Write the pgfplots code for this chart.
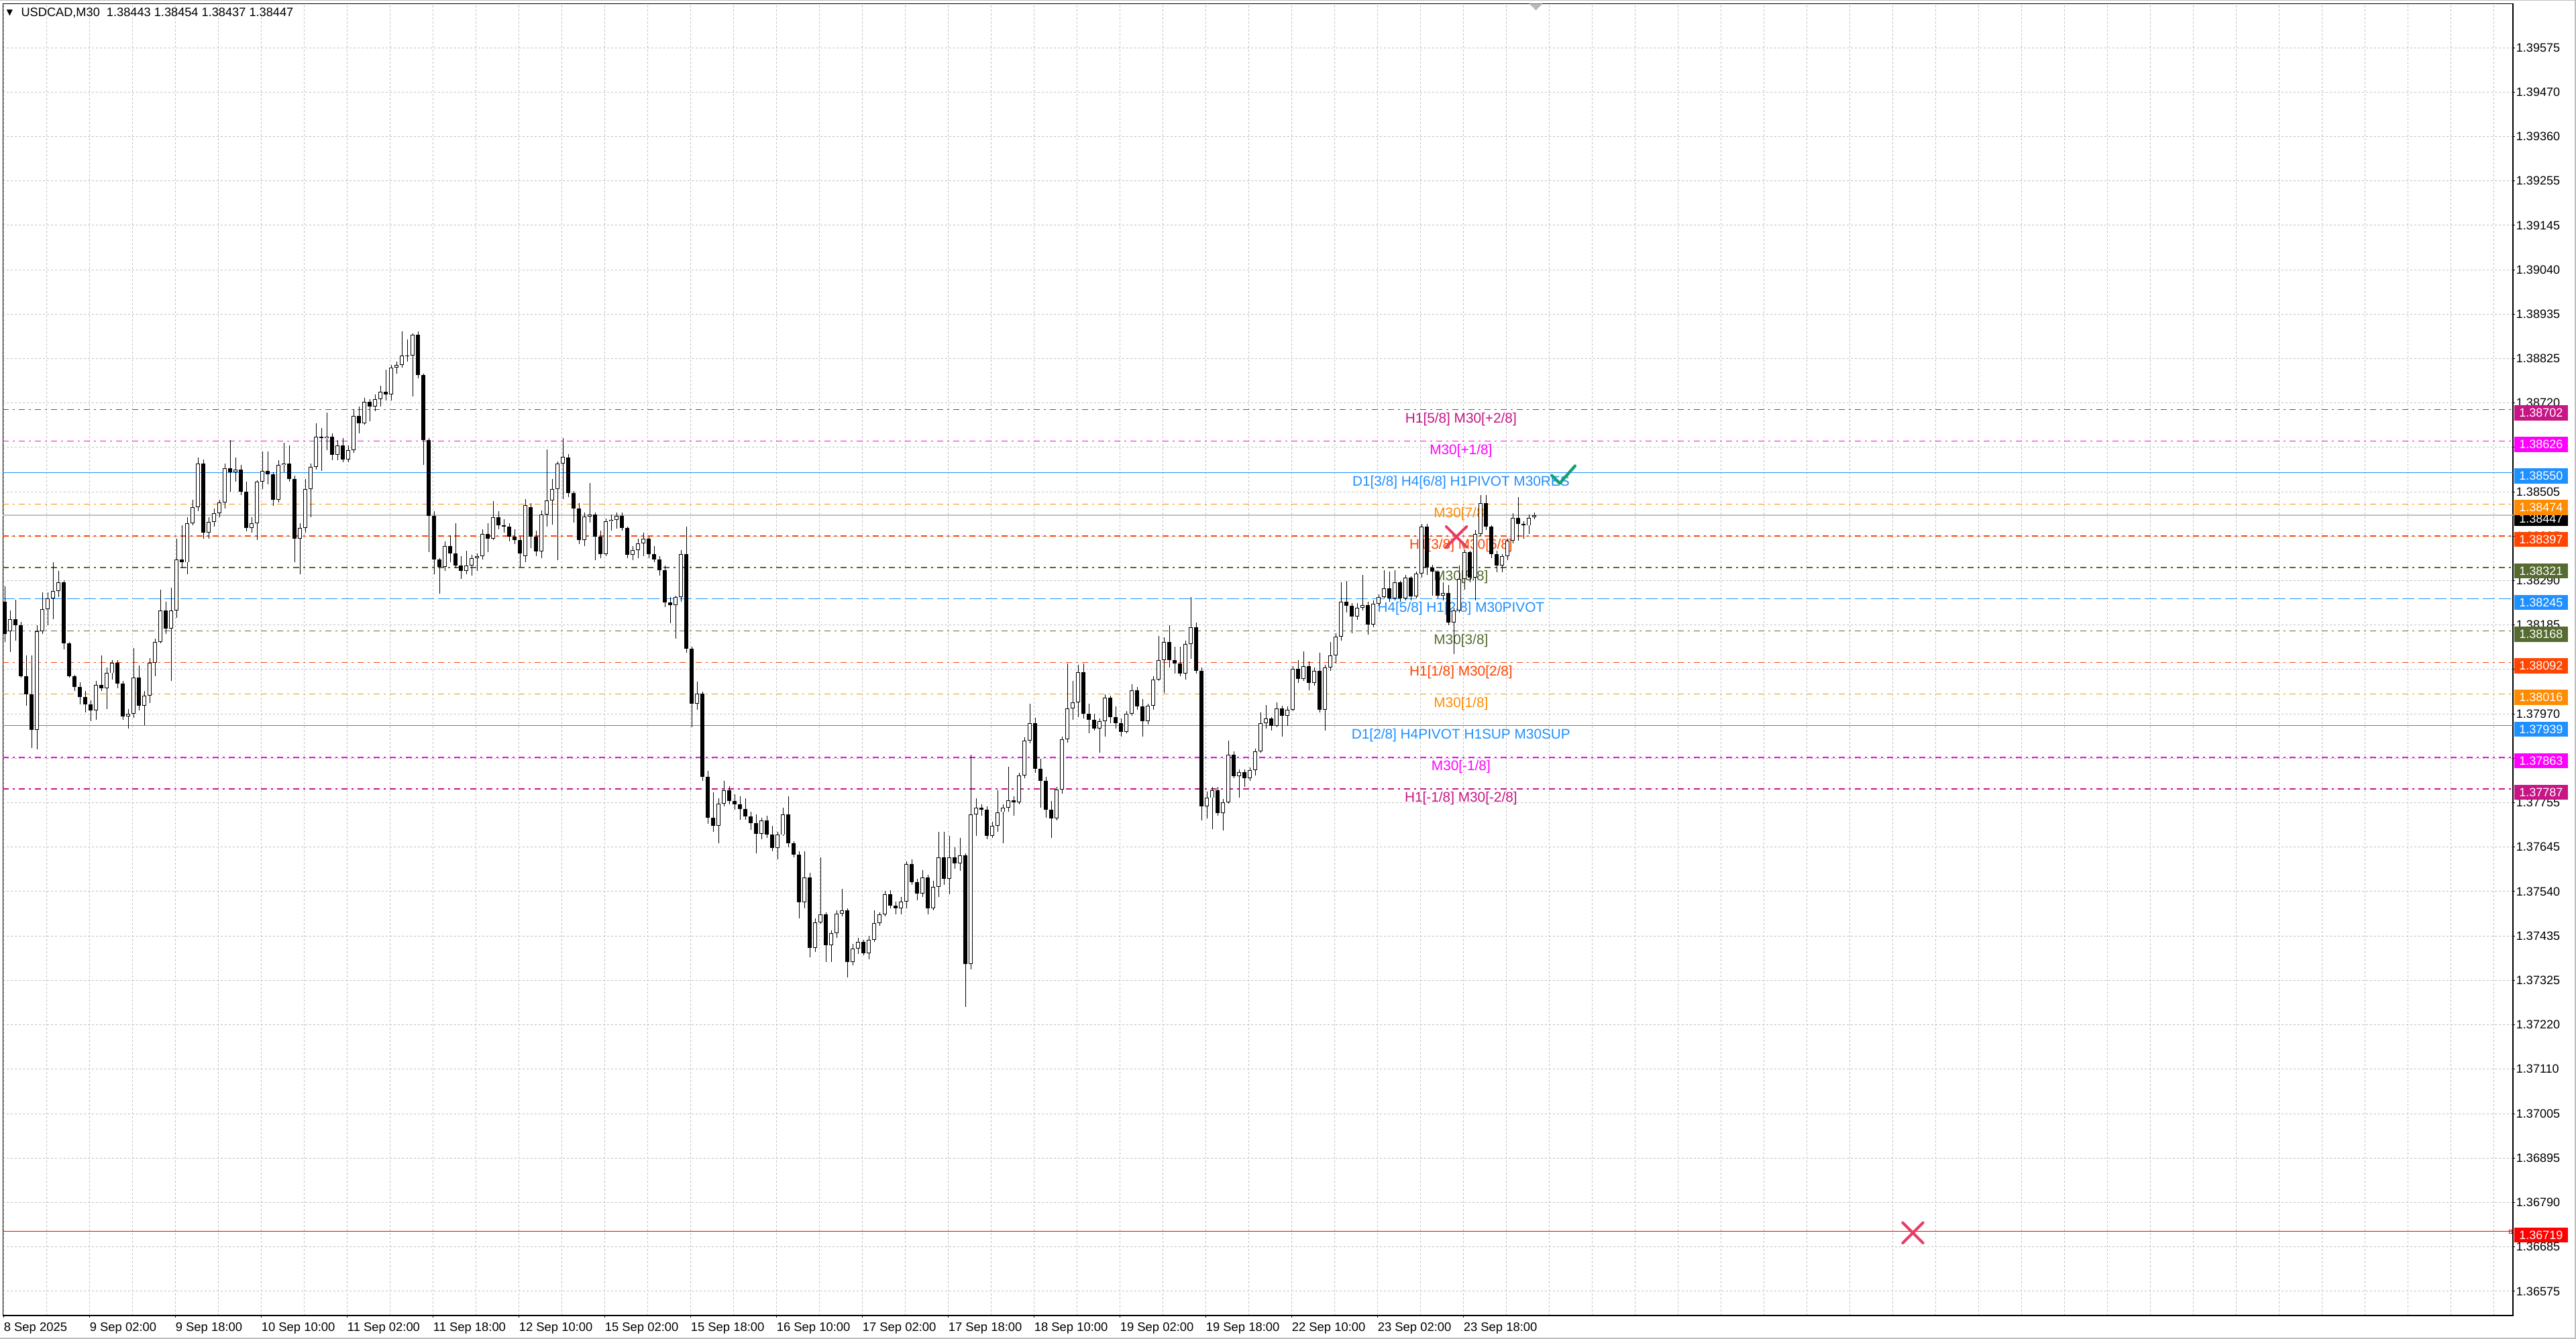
\documentclass[border=0pt]{standalone}
\usepackage{pgfplots}
\pgfplotsset{compat=1.18}
\usepackage{pgfplotstable}
\usepackage{fontspec}
\setmainfont{Liberation Sans}
\newfontfamily\dejavu{DejaVu Sans}
\definecolor{mvred}{RGB}{199,21,133}
\definecolor{mgnt}{RGB}{255,0,255}
\definecolor{dblue}{RGB}{30,144,255}
\definecolor{dorange}{RGB}{255,140,0}
\definecolor{ored}{RGB}{255,69,0}
\definecolor{olivec}{RGB}{85,107,47}
\definecolor{gridgray}{RGB}{192,192,192}
\definecolor{xred}{RGB}{232,60,100}
\definecolor{chk}{RGB}{22,160,120}
\newcommand{\lvlfont}{\fontsize{10.4}{12}\selectfont}
\newcommand{\boxfont}{\fontsize{9}{10}\selectfont}

\pgfplotstableread{
x o h l c
0.5 1.38239 1.38275 1.38142 1.38160
2.5 1.38167 1.38218 1.38117 1.38196
4.5 1.38196 1.38243 1.38145 1.38182
6.5 1.38182 1.38189 1.38055 1.38059
8.5 1.38059 1.38109 1.37987 1.38015
10.5 1.38015 1.38109 1.37885 1.37929
12.5 1.37929 1.38182 1.37882 1.38167
14.5 1.38167 1.38261 1.38160 1.38221
16.5 1.38221 1.38261 1.38182 1.38246
18.5 1.38246 1.38333 1.38196 1.38265
20.5 1.38265 1.38312 1.38250 1.38286
22.5 1.38286 1.38290 1.38124 1.38138
24.5 1.38138 1.38142 1.38055 1.38059
26.5 1.38059 1.38062 1.38023 1.38033
28.5 1.38033 1.38044 1.37990 1.38008
30.5 1.38008 1.38023 1.37972 1.37990
32.5 1.37990 1.38001 1.37950 1.37976
34.5 1.37976 1.38048 1.37954 1.38037
36.5 1.38037 1.38109 1.38023 1.38030
38.5 1.38030 1.38080 1.37979 1.38066
40.5 1.38066 1.38098 1.38051 1.38091
42.5 1.38091 1.38098 1.38030 1.38041
44.5 1.38041 1.38048 1.37954 1.37961
46.5 1.37961 1.37979 1.37932 1.37968
48.5 1.37968 1.38127 1.37958 1.38055
50.5 1.38055 1.38084 1.37976 1.37987
52.5 1.37987 1.38023 1.37940 1.38012
54.5 1.38012 1.38102 1.37994 1.38091
56.5 1.38091 1.38149 1.38059 1.38142
58.5 1.38142 1.38268 1.38138 1.38218
60.5 1.38218 1.38239 1.38160 1.38174
62.5 1.38174 1.38272 1.38048 1.38218
64.5 1.38218 1.38391 1.38200 1.38340
66.5 1.38340 1.38423 1.38319 1.38333
68.5 1.38333 1.38442 1.38304 1.38427
70.5 1.38427 1.38485 1.38423 1.38467
72.5 1.38467 1.38586 1.38456 1.38572
74.5 1.38572 1.38582 1.38391 1.38405
76.5 1.38405 1.38442 1.38391 1.38431
78.5 1.38431 1.38463 1.38420 1.38452
80.5 1.38452 1.38485 1.38442 1.38478
82.5 1.38478 1.38572 1.38463 1.38561
84.5 1.38561 1.38629 1.38503 1.38550
86.5 1.38550 1.38586 1.38528 1.38557
88.5 1.38557 1.38568 1.38496 1.38503
90.5 1.38503 1.38528 1.38409 1.38416
92.5 1.38416 1.38442 1.38405 1.38427
94.5 1.38427 1.38532 1.38387 1.38528
96.5 1.38528 1.38601 1.38510 1.38554
98.5 1.38554 1.38601 1.38521 1.38546
100.5 1.38546 1.38550 1.38470 1.38485
102.5 1.38485 1.38579 1.38478 1.38568
104.5 1.38568 1.38622 1.38550 1.38572
106.5 1.38572 1.38615 1.38528 1.38535
108.5 1.38535 1.38543 1.38333 1.38391
110.5 1.38391 1.38427 1.38304 1.38416
112.5 1.38416 1.38535 1.38405 1.38510
114.5 1.38510 1.38572 1.38442 1.38564
116.5 1.38564 1.38669 1.38557 1.38637
118.5 1.38637 1.38658 1.38554 1.38633
120.5 1.38633 1.38694 1.38604 1.38637
122.5 1.38637 1.38644 1.38579 1.38593
124.5 1.38593 1.38629 1.38579 1.38615
126.5 1.38615 1.38633 1.38575 1.38582
128.5 1.38582 1.38615 1.38575 1.38604
130.5 1.38604 1.38702 1.38597 1.38687
132.5 1.38687 1.38709 1.38644 1.38669
134.5 1.38669 1.38730 1.38665 1.38720
136.5 1.38720 1.38727 1.38673 1.38709
138.5 1.38709 1.38738 1.38698 1.38727
140.5 1.38727 1.38759 1.38709 1.38745
142.5 1.38745 1.38799 1.38723 1.38738
144.5 1.38738 1.38810 1.38723 1.38803
146.5 1.38803 1.38817 1.38788 1.38809
148.5 1.38809 1.38890 1.38803 1.38832
150.5 1.38832 1.38871 1.38817 1.38833
152.5 1.38833 1.38886 1.38734 1.38882
154.5 1.38882 1.38890 1.38778 1.38785
156.5 1.38785 1.38788 1.38568 1.38629
158.5 1.38629 1.38633 1.38358 1.38445
160.5 1.38445 1.38456 1.38304 1.38340
162.5 1.38340 1.38344 1.38257 1.38322
164.5 1.38322 1.38384 1.38312 1.38373
166.5 1.38373 1.38398 1.38333 1.38355
168.5 1.38355 1.38427 1.38319 1.38326
170.5 1.38326 1.38348 1.38293 1.38312
172.5 1.38312 1.38362 1.38304 1.38326
174.5 1.38326 1.38351 1.38301 1.38344
176.5 1.38344 1.38355 1.38312 1.38348
178.5 1.38348 1.38413 1.38340 1.38402
180.5 1.38402 1.38427 1.38358 1.38391
182.5 1.38391 1.38481 1.38387 1.38442
184.5 1.38442 1.38456 1.38413 1.38423
186.5 1.38423 1.38438 1.38405 1.38420
188.5 1.38420 1.38427 1.38384 1.38395
190.5 1.38395 1.38413 1.38377 1.38387
192.5 1.38387 1.38395 1.38322 1.38355
194.5 1.38349 1.38486 1.38334 1.38472
196.5 1.38467 1.38477 1.38368 1.38396
198.5 1.38396 1.38410 1.38349 1.38360
200.5 1.38360 1.38458 1.38344 1.38448
202.5 1.38448 1.38605 1.38420 1.38482
204.5 1.38482 1.38534 1.38424 1.38510
206.5 1.38510 1.38576 1.38339 1.38571
208.5 1.38571 1.38633 1.38486 1.38588
210.5 1.38586 1.38595 1.38491 1.38501
212.5 1.38501 1.38505 1.38429 1.38463
214.5 1.38463 1.38477 1.38377 1.38387
216.5 1.38387 1.38453 1.38372 1.38444
218.5 1.38444 1.38524 1.38429 1.38448
220.5 1.38448 1.38453 1.38339 1.38396
222.5 1.38396 1.38410 1.38344 1.38353
224.5 1.38353 1.38439 1.38349 1.38432
226.5 1.38432 1.38448 1.38410 1.38436
228.5 1.38436 1.38453 1.38415 1.38446
230.5 1.38446 1.38453 1.38410 1.38417
232.5 1.38417 1.38420 1.38344 1.38351
234.5 1.38351 1.38372 1.38339 1.38363
236.5 1.38363 1.38391 1.38344 1.38379
238.5 1.38379 1.38405 1.38349 1.38391
240.5 1.38391 1.38396 1.38344 1.38353
242.5 1.38353 1.38372 1.38334 1.38341
244.5 1.38341 1.38349 1.38301 1.38315
246.5 1.38315 1.38325 1.38225 1.38236
248.5 1.38236 1.38249 1.38187 1.38230
250.5 1.38230 1.38253 1.38149 1.38249
252.5 1.38249 1.38363 1.38239 1.38353
254.5 1.38353 1.38420 1.38116 1.38125
256.5 1.38125 1.38130 1.37935 1.37992
258.5 1.37992 1.38045 1.37978 1.38016
260.5 1.38016 1.38021 1.37807 1.37816
262.5 1.37816 1.37831 1.37703 1.37717
264.5 1.37717 1.37779 1.37684 1.37698
266.5 1.37698 1.37764 1.37655 1.37752
268.5 1.37752 1.37807 1.37745 1.37783
270.5 1.37783 1.37793 1.37750 1.37758
272.5 1.37758 1.37774 1.37736 1.37750
274.5 1.37750 1.37769 1.37712 1.37739
276.5 1.37739 1.37764 1.37712 1.37720
278.5 1.37720 1.37731 1.37688 1.37705
280.5 1.37705 1.37726 1.37631 1.37679
282.5 1.37679 1.37717 1.37665 1.37710
284.5 1.37710 1.37722 1.37669 1.37676
286.5 1.37676 1.37698 1.37636 1.37644
288.5 1.37644 1.37684 1.37617 1.37676
290.5 1.37676 1.37741 1.37674 1.37726
292.5 1.37726 1.37769 1.37646 1.37655
294.5 1.37655 1.37660 1.37622 1.37629
296.5 1.37629 1.37636 1.37475 1.37513
298.5 1.37513 1.37636 1.37498 1.37574
300.5 1.37574 1.37584 1.37380 1.37404
302.5 1.37404 1.37475 1.37394 1.37465
304.5 1.37465 1.37622 1.37461 1.37484
306.5 1.37484 1.37489 1.37370 1.37410
308.5 1.37410 1.37446 1.37370 1.37439
310.5 1.37439 1.37494 1.37427 1.37486
312.5 1.37486 1.37546 1.37480 1.37494
314.5 1.37494 1.37498 1.37332 1.37370
316.5 1.37370 1.37413 1.37361 1.37401
318.5 1.37401 1.37427 1.37389 1.37418
320.5 1.37418 1.37422 1.37385 1.37391
322.5 1.37391 1.37432 1.37375 1.37422
324.5 1.37422 1.37494 1.37418 1.37463
326.5 1.37463 1.37489 1.37456 1.37484
328.5 1.37484 1.37541 1.37480 1.37532
330.5 1.37532 1.37543 1.37498 1.37505
332.5 1.37505 1.37515 1.37484 1.37498
334.5 1.37498 1.37527 1.37484 1.37515
336.5 1.37515 1.37612 1.37498 1.37605
338.5 1.37605 1.37617 1.37556 1.37562
340.5 1.37562 1.37570 1.37518 1.37534
342.5 1.37534 1.37591 1.37527 1.37574
344.5 1.37574 1.37579 1.37484 1.37498
346.5 1.37498 1.37565 1.37494 1.37551
348.5 1.37551 1.37684 1.37527 1.37622
350.5 1.37622 1.37684 1.37556 1.37570
352.5 1.37570 1.37674 1.37532 1.37622
354.5 1.37622 1.37646 1.37594 1.37608
356.5 1.37608 1.37669 1.37589 1.37627
358.5 1.37627 1.37631 1.37261 1.37365
360.5 1.37365 1.37869 1.37351 1.37726
362.5 1.37726 1.37764 1.37674 1.37741
364.5 1.37741 1.37750 1.37722 1.37736
366.5 1.37736 1.37745 1.37665 1.37674
368.5 1.37674 1.37707 1.37669 1.37698
370.5 1.37698 1.37783 1.37684 1.37731
372.5 1.37731 1.37750 1.37655 1.37741
374.5 1.37741 1.37840 1.37731 1.37760
376.5 1.37760 1.37769 1.37722 1.37755
378.5 1.37755 1.37826 1.37750 1.37819
380.5 1.37819 1.37912 1.37812 1.37904
382.5 1.37904 1.37992 1.37897 1.37945
384.5 1.37945 1.37959 1.37826 1.37836
386.5 1.37836 1.37860 1.37741 1.37807
388.5 1.37807 1.37816 1.37717 1.37736
390.5 1.37736 1.37758 1.37668 1.37715
392.5 1.37715 1.37791 1.37711 1.37786
394.5 1.37786 1.37913 1.37776 1.37906
396.5 1.37906 1.38090 1.37899 1.37981
398.5 1.37981 1.38047 1.37953 1.37996
400.5 1.37996 1.38087 1.37960 1.38069
402.5 1.38069 1.38090 1.37957 1.37968
404.5 1.37968 1.37993 1.37921 1.37953
406.5 1.37953 1.37968 1.37928 1.37933
408.5 1.37933 1.37957 1.37874 1.37950
410.5 1.37950 1.38015 1.37913 1.38007
412.5 1.38007 1.38011 1.37946 1.37960
414.5 1.37960 1.37986 1.37932 1.37946
416.5 1.37946 1.37957 1.37913 1.37924
418.5 1.37924 1.37975 1.37921 1.37968
420.5 1.37968 1.38040 1.37964 1.38025
422.5 1.38025 1.38033 1.37978 1.37986
424.5 1.37986 1.38004 1.37913 1.37950
426.5 1.37950 1.37993 1.37942 1.37988
428.5 1.37988 1.38058 1.37978 1.38051
430.5 1.38051 1.38155 1.38047 1.38098
432.5 1.38098 1.38152 1.38018 1.38141
434.5 1.38141 1.38181 1.38080 1.38098
436.5 1.38098 1.38130 1.38065 1.38090
438.5 1.38090 1.38130 1.38058 1.38065
440.5 1.38065 1.38145 1.38051 1.38137
442.5 1.38137 1.38249 1.38101 1.38177
444.5 1.38177 1.38188 1.38065 1.38072
446.5 1.38072 1.38080 1.37711 1.37744
448.5 1.37744 1.37780 1.37715 1.37765
450.5 1.37765 1.37791 1.37689 1.37783
452.5 1.37783 1.37791 1.37722 1.37728
454.5 1.37728 1.37762 1.37686 1.37755
456.5 1.37755 1.37903 1.37751 1.37870
458.5 1.37870 1.37877 1.37812 1.37817
460.5 1.37817 1.37834 1.37765 1.37827
462.5 1.37827 1.37834 1.37791 1.37812
464.5 1.37812 1.37839 1.37807 1.37832
466.5 1.37832 1.37884 1.37819 1.37877
468.5 1.37877 1.37971 1.37874 1.37946
470.5 1.37946 1.37989 1.37932 1.37957
472.5 1.37957 1.37960 1.37928 1.37939
474.5 1.37939 1.37996 1.37935 1.37981
476.5 1.37981 1.37988 1.37913 1.37964
478.5 1.37964 1.37986 1.37939 1.37978
480.5 1.37978 1.38083 1.37975 1.38077
482.5 1.38077 1.38098 1.38043 1.38053
484.5 1.38053 1.38119 1.38047 1.38083
486.5 1.38083 1.38094 1.38025 1.38043
488.5 1.38043 1.38080 1.38036 1.38072
490.5 1.38072 1.38116 1.37971 1.37978
492.5 1.37978 1.38087 1.37928 1.38080
494.5 1.38080 1.38141 1.38072 1.38109
496.5 1.38109 1.38163 1.38090 1.38154
498.5 1.38154 1.38285 1.38145 1.38239
500.5 1.38239 1.38289 1.38213 1.38228
502.5 1.38228 1.38235 1.38163 1.38202
504.5 1.38202 1.38235 1.38195 1.38224
506.5 1.38224 1.38303 1.38217 1.38231
508.5 1.38231 1.38239 1.38159 1.38184
510.5 1.38184 1.38242 1.38177 1.38233
512.5 1.38233 1.38256 1.38228 1.38249
514.5 1.38249 1.38314 1.38246 1.38271
516.5 1.38271 1.38311 1.38239 1.38246
518.5 1.38246 1.38314 1.38242 1.38285
520.5 1.38285 1.38289 1.38239 1.38246
522.5 1.38246 1.38303 1.38242 1.38296
524.5 1.38296 1.38300 1.38242 1.38251
526.5 1.38251 1.38311 1.38246 1.38306
528.5 1.38306 1.38426 1.38296 1.38419
530.5 1.38419 1.38426 1.38303 1.38321
532.5 1.38321 1.38328 1.38253 1.38311
534.5 1.38311 1.38314 1.38246 1.38253
536.5 1.38253 1.38285 1.38242 1.38260
538.5 1.38260 1.38278 1.38181 1.38188
540.5 1.38188 1.38224 1.38112 1.38217
542.5 1.38217 1.38325 1.38213 1.38293
544.5 1.38293 1.38365 1.38267 1.38358
546.5 1.38358 1.38361 1.38285 1.38296
548.5 1.38296 1.38412 1.38242 1.38401
550.5 1.38401 1.38495 1.38397 1.38477
552.5 1.38477 1.38496 1.38412 1.38419
554.5 1.38419 1.38422 1.38343 1.38354
556.5 1.38354 1.38361 1.38310 1.38325
558.5 1.38325 1.38354 1.38310 1.38349
560.5 1.38349 1.38390 1.38339 1.38385
562.5 1.38385 1.38452 1.38379 1.38441
564.5 1.38441 1.38491 1.38386 1.38426
566.5 1.38426 1.38433 1.38390 1.38422
568.5 1.38422 1.38448 1.38401 1.38441
570.5 1.38443 1.38454 1.38437 1.38447
}\candles

\begin{document}
\begin{tikzpicture}
\useasboundingbox (0,0) rectangle (1920pt,998pt);
\fill[white] (0,0) rectangle (1920pt,998pt);
\begin{axis}[
  at={(2.25pt,17.5pt)}, anchor=south west,
  scale only axis, width=1870.75pt, height=977.8pt,
  xmin=-0.25, xmax=935.125, ymin=1.365165, ymax=1.396812,
  clip=false,
  axis line style={black, line width=0.6pt},
  tick align=outside, major tick length=1.5pt, minor tick length=0pt,
  tick style={black, line width=0.5pt},
  xtick pos=bottom, ytick pos=right, yticklabel pos=right,
  xtick={0,32,...,544}, minor xtick={16,32,...,928},
  xticklabels={8 Sep 2025,9 Sep 02:00,9 Sep 18:00,10 Sep 10:00,11 Sep 02:00,11 Sep 18:00,12 Sep 10:00,15 Sep 02:00,15 Sep 18:00,16 Sep 10:00,17 Sep 02:00,17 Sep 18:00,18 Sep 10:00,19 Sep 02:00,19 Sep 18:00,22 Sep 10:00,23 Sep 02:00,23 Sep 18:00},
  ytick={1.39575,1.394678571,1.393607143,1.392535714,1.391464286,1.390392857,1.389321429,1.38825,1.387178571,1.386107143,1.385035714,1.383964286,1.382892857,1.381821429,1.38075,1.379678571,1.378607143,1.377535714,1.376464286,1.375392857,1.374321429,1.37325,1.372178571,1.371107143,1.370035714,1.368964286,1.367892857,1.366821429,1.36575},
  yticklabels={1.39575,1.39470,1.39360,1.39255,1.39145,1.39040,1.38935,1.38825,1.38720,1.38610,1.38505,1.38395,1.38290,1.38185,1.38075,1.37970,1.37860,1.37755,1.37645,1.37540,1.37435,1.37325,1.37220,1.37110,1.37005,1.36895,1.36790,1.36685,1.36575},
  grid=both,
  major grid style={gridgray, line width=0.5pt, dash pattern=on 1.5pt off 1.5pt},
  minor grid style={gridgray, line width=0.5pt, dash pattern=on 1.5pt off 1.5pt},
  xticklabel style={anchor=north west, inner sep=0pt, yshift=-3.5pt, font=\fontsize{9.2}{10}\selectfont},
  yticklabel style={anchor=west, inner sep=0pt, xshift=0.8pt, font=\fontsize{9}{10}\selectfont},
  scaled y ticks=false,
  filter discard warning=false,
  after end axis/.code={
    \node[fill=black, text=white, font=\boxfont, minimum width=40pt, minimum height=11.2pt, inner sep=0pt, yshift=-2.5pt] at (axis cs:945.6,1.38447) {1.38447};
    \node[fill=mvred, text=white, font=\boxfont, minimum width=40pt, minimum height=11.2pt, inner sep=0pt, yshift=-2.5pt] at (axis cs:945.6,1.38702) {1.38702};
    \node[fill=mgnt, text=white, font=\boxfont, minimum width=40pt, minimum height=11.2pt, inner sep=0pt, yshift=-2.5pt] at (axis cs:945.6,1.38626) {1.38626};
    \node[fill=dblue, text=white, font=\boxfont, minimum width=40pt, minimum height=11.2pt, inner sep=0pt, yshift=-2.5pt] at (axis cs:945.6,1.38550) {1.38550};
    \node[fill=dorange, text=white, font=\boxfont, minimum width=40pt, minimum height=11.2pt, inner sep=0pt, yshift=-2.5pt] at (axis cs:945.6,1.38474) {1.38474};
    \node[fill=ored, text=white, font=\boxfont, minimum width=40pt, minimum height=11.2pt, inner sep=0pt, yshift=-2.5pt] at (axis cs:945.6,1.38397) {1.38397};
    \node[fill=olivec, text=white, font=\boxfont, minimum width=40pt, minimum height=11.2pt, inner sep=0pt, yshift=-2.5pt] at (axis cs:945.6,1.38321) {1.38321};
    \node[fill=dblue, text=white, font=\boxfont, minimum width=40pt, minimum height=11.2pt, inner sep=0pt, yshift=-2.5pt] at (axis cs:945.6,1.38245) {1.38245};
    \node[fill=olivec, text=white, font=\boxfont, minimum width=40pt, minimum height=11.2pt, inner sep=0pt, yshift=-2.5pt] at (axis cs:945.6,1.38168) {1.38168};
    \node[fill=ored, text=white, font=\boxfont, minimum width=40pt, minimum height=11.2pt, inner sep=0pt, yshift=-2.5pt] at (axis cs:945.6,1.38092) {1.38092};
    \node[fill=dorange, text=white, font=\boxfont, minimum width=40pt, minimum height=11.2pt, inner sep=0pt, yshift=-2.5pt] at (axis cs:945.6,1.38016) {1.38016};
    \node[fill=dblue, text=white, font=\boxfont, minimum width=40pt, minimum height=11.2pt, inner sep=0pt, yshift=-2.5pt] at (axis cs:945.6,1.37939) {1.37939};
    \node[fill=mgnt, text=white, font=\boxfont, minimum width=40pt, minimum height=11.2pt, inner sep=0pt, yshift=-2.5pt] at (axis cs:945.6,1.37863) {1.37863};
    \node[fill=mvred, text=white, font=\boxfont, minimum width=40pt, minimum height=11.2pt, inner sep=0pt, yshift=-2.5pt] at (axis cs:945.6,1.37787) {1.37787};
    \node[fill=red, text=white, font=\boxfont, minimum width=40pt, minimum height=11.2pt, inner sep=0pt, yshift=-2.5pt] at (axis cs:945.6,1.36719) {1.36719};
    \fill[gray!55] (axis cs:571,1.396812) ++(-5pt,0pt) -- ++(10pt,0pt) -- ++(-5pt,-5pt) -- cycle;
  },
]
% level lines
\addplot[mvred, line width=0.75pt, dash pattern=on 4.5pt off 3pt on 1.5pt off 3pt] coordinates {(-0.25,1.38702) (935.125,1.38702)};
\addplot[mgnt, line width=0.6pt, dash pattern=on 4.5pt off 3pt on 1.5pt off 3pt] coordinates {(-0.25,1.38626) (935.125,1.38626)};
\addplot[dblue, line width=0.5pt] coordinates {(-0.25,1.38550) (935.125,1.38550)};
\addplot[dorange, line width=0.75pt, dash pattern=on 4.5pt off 3pt on 1.5pt off 3pt] coordinates {(-0.25,1.38474) (935.125,1.38474)};
\addplot[gridgray, line width=0.6pt] coordinates {(-0.25,1.38447) (935.125,1.38447)};
\addplot[ored, line width=0.6pt, dash pattern=on 4.5pt off 3pt on 1.5pt off 3pt] coordinates {(-0.25,1.38397) (935.125,1.38397)};
\addplot[olivec, line width=0.6pt, dash pattern=on 4.5pt off 3pt on 1.5pt off 3pt] coordinates {(-0.25,1.38321) (935.125,1.38321)};
\addplot[dblue, line width=0.6pt, dash pattern=on 9pt off 3pt] coordinates {(-0.25,1.38245) (935.125,1.38245)};
\addplot[olivec, line width=0.6pt, dash pattern=on 4.5pt off 3pt on 1.5pt off 3pt] coordinates {(-0.25,1.38168) (935.125,1.38168)};
\addplot[ored, line width=0.6pt, dash pattern=on 4.5pt off 3pt on 1.5pt off 3pt] coordinates {(-0.25,1.38092) (935.125,1.38092)};
\addplot[dorange, line width=0.75pt, dash pattern=on 4.5pt off 3pt on 1.5pt off 3pt] coordinates {(-0.25,1.38016) (935.125,1.38016)};
\addplot[dblue, line width=0.5pt] coordinates {(-0.25,1.37939) (935.125,1.37939)};
\addplot[mgnt, line width=0.6pt, dash pattern=on 4.5pt off 3pt on 1.5pt off 3pt] coordinates {(-0.25,1.37863) (935.125,1.37863)};
\addplot[mvred, line width=0.75pt, dash pattern=on 4.5pt off 3pt on 1.5pt off 3pt] coordinates {(-0.25,1.37787) (935.125,1.37787)};
\addplot[red, line width=0.6pt] coordinates {(-0.25,1.36719) (935.125,1.36719)};
\addplot[red, only marks, mark=square, mark size=1.1pt, mark options={line width=0.5pt, fill=white}] coordinates {(934.2,1.36719)};
% level texts
\node[anchor=base, yshift=-10pt, text=mvred, font=\lvlfont] at (axis cs:543.1,1.38702) {H1[5/8] M30[+2/8]};
\node[anchor=base, yshift=-10pt, text=mgnt, font=\lvlfont] at (axis cs:543.1,1.38626) {M30[+1/8]};
\node[anchor=base, yshift=-10pt, text=dblue, font=\lvlfont] at (axis cs:543.1,1.38550) {D1[3/8] H4[6/8] H1PIVOT M30RES};
\node[anchor=base, yshift=-10pt, text=dorange, font=\lvlfont] at (axis cs:543.1,1.38474) {M30[7/8]};
\node[anchor=base, yshift=-10pt, text=ored, font=\lvlfont] at (axis cs:543.1,1.38397) {H1[3/8] M30[6/8]};
\node[anchor=base, yshift=-10pt, text=olivec, font=\lvlfont] at (axis cs:543.1,1.38321) {M30[5/8]};
\node[anchor=base, yshift=-10pt, text=dblue, font=\lvlfont] at (axis cs:543.1,1.38245) {H4[5/8] H1[2/8] M30PIVOT};
\node[anchor=base, yshift=-10pt, text=olivec, font=\lvlfont] at (axis cs:543.1,1.38168) {M30[3/8]};
\node[anchor=base, yshift=-10pt, text=ored, font=\lvlfont] at (axis cs:543.1,1.38092) {H1[1/8] M30[2/8]};
\node[anchor=base, yshift=-10pt, text=dorange, font=\lvlfont] at (axis cs:543.1,1.38016) {M30[1/8]};
\node[anchor=base, yshift=-10pt, text=dblue, font=\lvlfont] at (axis cs:543.1,1.37939) {D1[2/8] H4PIVOT H1SUP M30SUP};
\node[anchor=base, yshift=-10pt, text=mgnt, font=\lvlfont] at (axis cs:543.1,1.37863) {M30[-1/8]};
\node[anchor=base, yshift=-10pt, text=mvred, font=\lvlfont] at (axis cs:543.1,1.37787) {H1[-1/8] M30[-2/8]};
% candles: wicks
\addplot[draw=none, mark=none, error bars/.cd, y dir=plus, y explicit, error mark=none, error bar style={draw=black, line width=0.5pt}]
  table[x=x, y=l, y error plus expr=\thisrow{h}-\thisrow{l}] {\candles};
% bull bodies (outline)
\addplot[draw=none, mark=none, restrict expr to domain={\thisrow{c}-\thisrow{o}}{0:1}, error bars/.cd, y dir=plus, y explicit, error mark=none, error bar style={draw=black, line width=3pt}]
  table[x=x, y=o, y error plus expr=\thisrow{c}-\thisrow{o}] {\candles};
% bear bodies
\addplot[draw=none, mark=none, restrict expr to domain={\thisrow{c}-\thisrow{o}}{-1:0}, error bars/.cd, y dir=plus, y explicit, error mark=none, error bar style={draw=black, line width=3pt}]
  table[x=x, y=c, y error plus expr=\thisrow{o}-\thisrow{c}] {\candles};
% bull bodies (white inside)
\addplot[draw=none, mark=none, restrict expr to domain={\thisrow{c}-\thisrow{o}}{0.00004:1}, error bars/.cd, y dir=plus, y explicit, error mark=none, error bar style={draw=white, line width=2pt}]
  table[x=x, y expr=\thisrow{o}+0.000016, y error plus expr=\thisrow{c}-\thisrow{o}-0.000032] {\candles};
% annotations
\addplot[only marks, mark=x, mark size=10.75pt, mark options={draw=xred, line width=2pt, line cap=round}] coordinates {(541.4,1.38395) (711.5,1.36716)};
\addplot[chk, line width=2.2pt, line cap=round, line join=round] coordinates {(576.9,1.38543) (579.9,1.38524) (585.6,1.38566)};
\end{axis}
% title
\node[anchor=center, font=\dejavu\fontsize{6}{7}\selectfont] at (7.2pt,988.3pt) {▼};
\node[anchor=west, inner sep=0pt, font=\fontsize{9.1}{10}\selectfont] at (15.6pt,988.3pt) {USDCAD,M30\ \ 1.38443 1.38454 1.38437 1.38447};
% window border
\draw[gray!50, line width=1pt] (0,998pt) -- (1919.5pt,998pt) -- (1919.5pt,0.5pt) -- (0,0.5pt);
\end{tikzpicture}
\end{document}
